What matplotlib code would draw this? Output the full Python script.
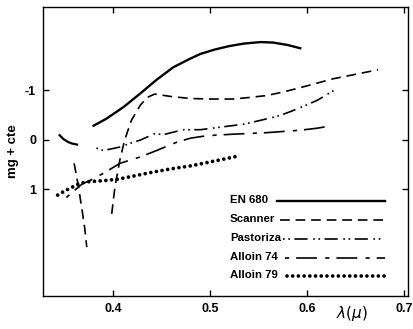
import matplotlib
matplotlib.use("Agg")
import matplotlib.pyplot as plt

plt.rcParams['lines.scale_dashes'] = False
sans = ['Liberation Sans', 'DejaVu Sans']

# curves (wavelength in micron, magnitude + const)
en680_x = [0.379, 0.393, 0.411, 0.428, 0.445, 0.462, 0.479, 0.490, 0.505, 0.520,
           0.535, 0.552, 0.565, 0.580, 0.594]
en680_y = [-0.27, -0.42, -0.66, -0.93, -1.21, -1.46, -1.63, -1.73, -1.82, -1.89,
           -1.94, -1.97, -1.96, -1.91, -1.84]

scan_x = [0.3987, 0.402, 0.407, 0.412, 0.419, 0.428, 0.435, 0.443, 0.46, 0.48,
          0.50, 0.524, 0.54, 0.558, 0.575, 0.593, 0.61, 0.627, 0.65, 0.673]
scan_y = [1.50, 0.96, 0.42, 0.01, -0.39, -0.69, -0.85, -0.92, -0.87, -0.83,
          -0.82, -0.82, -0.85, -0.89, -0.96, -1.05, -1.14, -1.23, -1.32, -1.41]
scan_uv_x = [0.360, 0.364, 0.368, 0.371, 0.373]
scan_uv_y = [0.48, 0.90, 1.40, 1.80, 2.17]

arc_x = [0.345, 0.349, 0.354, 0.358, 0.363]
arc_y = [-0.09, -0.01, 0.05, 0.08, 0.10]

past_x = [0.383, 0.390, 0.400, 0.407, 0.417, 0.428, 0.443, 0.452, 0.472, 0.490,
          0.510, 0.534, 0.552, 0.569, 0.582, 0.592, 0.610, 0.628]
past_y = [0.17, 0.22, 0.18, 0.15, 0.08, 0.01, -0.12, -0.10, -0.20, -0.20,
          -0.25, -0.31, -0.39, -0.47, -0.56, -0.64, -0.79, -1.00]

a74_x = [0.352, 0.360, 0.368, 0.380, 0.392, 0.407, 0.428, 0.445, 0.456, 0.466,
         0.480, 0.497, 0.524, 0.558, 0.593, 0.610, 0.622]
a74_y = [1.17, 1.03, 0.90, 0.79, 0.66, 0.48, 0.35, 0.22, 0.13, 0.05,
         -0.03, -0.08, -0.11, -0.14, -0.19, -0.23, -0.27]

a79_x = [0.343, 0.350, 0.358, 0.366, 0.375, 0.390, 0.405, 0.420, 0.440, 0.460,
         0.480, 0.500, 0.515, 0.527]
a79_y = [1.12, 1.04, 0.96, 0.88, 0.85, 0.83, 0.80, 0.74, 0.66, 0.59,
         0.53, 0.45, 0.39, 0.34]

names = ['EN 680', 'Scanner', 'Pastoriza', 'Alloin 74', 'Alloin 79']

# line styles (dash patterns in points)
ls_scan = (0, (7.0, 4.2))
ls_past = (0, (1.2, 2.6, 1.2, 3.2, 9.5, 4.0))
ls_a74 = (0, (3.0, 5.0, 15.0, 6.0))
ls_a79 = (0, (0.01, 4.1))

fig = plt.figure(figsize=(4.14, 3.29), dpi=100)
ax = fig.add_axes([0.104, 0.100, 0.882, 0.879])

ax.plot(en680_x, en680_y, color='black', lw=1.7, solid_capstyle='butt')
ax.plot(scan_x, scan_y, color='black', lw=1.2, ls=ls_scan)
ax.plot(scan_uv_x, scan_uv_y, color='black', lw=1.2, ls=ls_scan)
ax.plot(arc_x, arc_y, color='black', lw=1.6)
ax.plot(past_x, past_y, color='black', lw=1.2, ls=ls_past)
ax.plot(a74_x, a74_y, color='black', lw=1.2, ls=ls_a74)
ax.plot(a79_x, a79_y, color='black', lw=2.7, ls=ls_a79, dash_capstyle='round')

ax.set_xlim(0.328, 0.704)
ax.set_ylim(3.16, -2.68)

ax.set_xticks([0.4, 0.5, 0.6, 0.7])
ax.set_xticklabels(['0.4', '0.5', '0.6', '0.7'])
ax.set_yticks([-1, 0, 1])
ax.set_yticklabels(['-1', '0', '1'])
ax.tick_params(direction='in', length=4, width=1, top=True, right=True,
               labelsize=9, pad=5)
for lab in ax.get_xticklabels() + ax.get_yticklabels():
    lab.set_fontweight('bold')
    lab.set_family(sans)
for sp in ax.spines.values():
    sp.set_linewidth(1.0)

ax.set_ylabel('mg + cte', fontsize=9.5, fontweight='bold', family=sans, labelpad=4)
ax.text(0.847, -0.06, r'$\lambda(\mu)$', transform=ax.transAxes,
        ha='center', va='center', fontsize=11, family='DejaVu Serif')

# hand-drawn legend like the original
text_y = [0.322, 0.256, 0.190, 0.125, 0.062]
line_y = [0.329, 0.263, 0.197, 0.131, 0.069]
line_x0 = [0.641, 0.650, 0.658, 0.663, 0.668]
line_x1 = [0.937, 0.937, 0.925, 0.937, 0.937]
styles = [dict(lw=1.7), dict(lw=1.2, ls=ls_scan), dict(lw=1.2, ls=ls_past),
          dict(lw=1.2, ls=ls_a74), dict(lw=2.7, ls=ls_a79, dash_capstyle='round')]
for name, ty, ly, x0, x1, st in zip(names, text_y, line_y, line_x0, line_x1, styles):
    ax.text(0.512, ty, name, transform=ax.transAxes, ha='left', va='baseline',
            fontsize=8.2, fontweight='bold', family=sans)
    ax.plot([x0, x1], [ly, ly], transform=ax.transAxes, color='black', **st)

fig.savefig('out.png', dpi=100)
